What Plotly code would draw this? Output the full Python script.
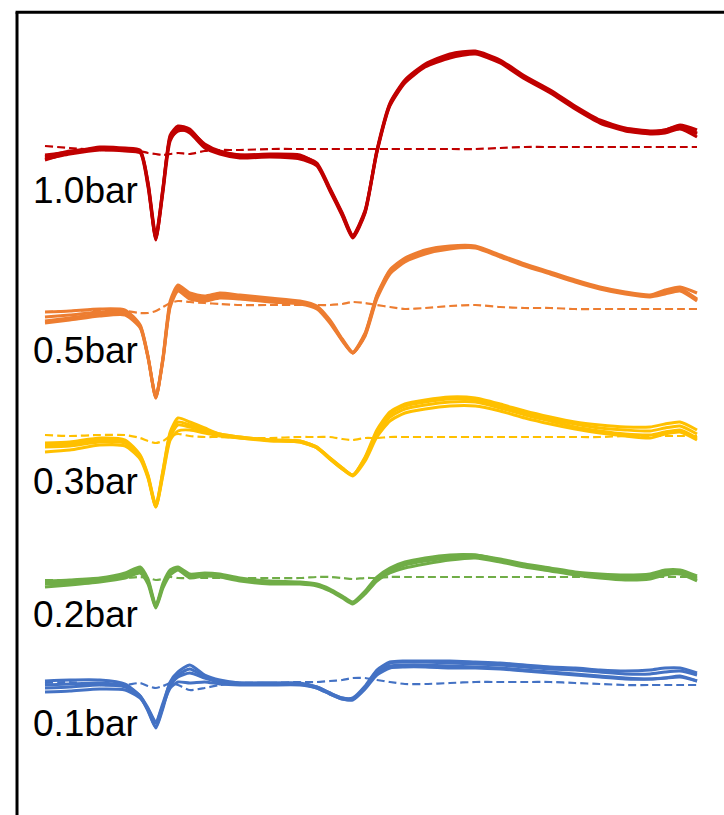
import plotly.graph_objects as go

# time axis (arbitrary units), shared by every trace
t = [0.0, 3.8, 8.4, 12.3, 14.6, 15.8, 17.0, 18.1, 19.2, 20.4, 22.2, 24.5, 26.8, 29.9,
     34.5, 39.1, 41.7, 43.7, 45.6, 47.2, 49.1, 50.9, 52.9, 55.2, 58.3, 62.1, 66.0,
     69.8, 73.6, 77.5, 81.3, 85.1, 89.0, 92.8, 95.1, 97.4, 100.0]

labels = ["1.0bar", "0.5bar", "0.3bar", "0.2bar", "0.1bar"]
colors = ["#C00000", "#ED7D31", "#FFC000", "#70AD47", "#4472C4"]
offsets = [66.6, 50.8, 37.8, 23.7, 13.2]
label_y = [62.5, 46.5, 33.4, 20.1, 9.2]

# solid traces (repeated recordings) per pressure
red_runs = [
    [-1.1, -0.4, 0.1, -0.1, -0.3, -3.6, -9.1, -4.1, 1.2, 2.2, 1.9, 0.3, -0.4, -0.7, -0.7, -0.8, -1.6, -4.1, -6.6, -8.8, -6.3, -0.3, 4.4, 6.7, 8.3, 9.3, 9.7, 8.7, 7.1, 5.7, 4.1, 2.7, 1.9, 1.6, 1.8, 2.2, 1.5],
    [-0.8, -0.2, 0.0, 0.0, -0.2, -3.4, -8.9, -3.8, 1.0, 1.8, 1.8, 0.5, -0.2, -0.6, -0.5, -0.6, -1.5, -4.0, -6.5, -8.7, -6.2, -0.1, 4.6, 6.9, 8.5, 9.5, 9.8, 8.9, 7.3, 5.9, 4.3, 2.9, 2.1, 1.8, 1.9, 2.4, 1.9],
    [-1.0, -0.5, -0.1, -0.2, -0.4, -3.8, -9.0, -4.3, 0.8, 2.0, 1.6, 0.1, -0.5, -0.9, -0.8, -1.0, -1.7, -4.2, -6.7, -8.9, -6.4, -0.4, 4.3, 6.6, 8.2, 9.1, 9.5, 8.6, 7.0, 5.6, 4.0, 2.6, 1.8, 1.5, 1.6, 2.0, 1.2],
    [-0.6, -0.3, 0.2, 0.1, -0.1, -3.3, -8.6, -3.9, 1.4, 2.3, 2.0, 0.4, -0.3, -0.6, -0.6, -0.7, -1.4, -3.9, -6.4, -8.6, -6.1, -0.2, 4.5, 6.8, 8.4, 9.4, 9.7, 8.8, 7.2, 5.8, 4.2, 2.8, 2.0, 1.7, 1.9, 2.3, 1.6],
]
orange_runs = [
    [-1.6, -1.3, -0.9, -0.8, -2.1, -5.1, -9.1, -5.3, 0.2, 2.0, 1.2, 0.9, 1.2, 1.0, 0.7, 0.4, -0.1, -1.5, -3.3, -4.6, -2.8, 1.0, 3.5, 4.7, 5.5, 5.9, 6.0, 5.1, 4.2, 3.4, 2.6, 1.9, 1.4, 1.1, 1.5, 1.8, 0.7],
    [-0.5, -0.4, -0.2, -0.3, -1.8, -4.9, -9.0, -5.0, 0.6, 2.2, 1.4, 1.1, 1.4, 1.2, 0.9, 0.6, 0.1, -1.3, -3.2, -4.5, -2.6, 1.2, 3.7, 4.9, 5.7, 6.1, 6.1, 5.2, 4.3, 3.5, 2.7, 2.0, 1.5, 1.2, 1.7, 2.0, 1.4],
    [-1.4, -1.1, -0.7, -0.6, -2.0, -5.0, -9.0, -5.2, 0.0, 1.6, 0.8, 0.6, 0.9, 0.8, 0.5, 0.3, -0.2, -1.6, -3.4, -4.6, -2.9, 0.8, 3.3, 4.5, 5.3, 5.8, 5.9, 5.0, 4.1, 3.3, 2.5, 1.8, 1.3, 1.0, 1.3, 1.6, 0.6],
    [-1.0, -0.8, -0.5, -0.5, -1.9, -5.0, -9.1, -5.1, 0.3, 1.8, 1.0, 0.8, 1.0, 0.9, 0.6, 0.4, 0.0, -1.4, -3.3, -4.6, -2.7, 1.1, 3.6, 4.8, 5.6, 6.0, 6.0, 5.1, 4.2, 3.4, 2.6, 1.9, 1.4, 1.1, 1.5, 1.8, 0.8],
]
yellow_runs = [
    [-0.6, -0.5, -0.1, -0.3, -1.8, -3.8, -6.8, -3.3, 0.5, 1.9, 1.5, 0.9, 0.3, 0.0, -0.3, -0.4, -1.0, -2.1, -3.1, -3.8, -2.0, 0.7, 2.5, 3.3, 3.7, 4.0, 3.9, 3.3, 2.6, 2.0, 1.5, 1.2, 1.0, 1.0, 1.3, 1.5, 0.7],
    [-1.0, -0.9, -0.5, -0.6, -2.0, -4.0, -7.0, -3.6, 0.0, 1.2, 1.0, 0.6, 0.2, -0.1, -0.3, -0.5, -1.1, -2.2, -3.2, -3.8, -2.2, 0.3, 2.0, 2.8, 3.2, 3.5, 3.5, 2.9, 2.2, 1.6, 1.0, 0.6, 0.3, 0.2, 0.5, 0.7, -0.1],
    [-1.5, -1.3, -0.8, -0.9, -2.2, -4.1, -7.0, -3.8, -0.3, 0.6, 0.7, 0.4, 0.1, -0.1, -0.4, -0.5, -1.1, -2.2, -3.2, -3.9, -2.4, 0.0, 1.6, 2.4, 2.8, 3.1, 3.1, 2.6, 1.9, 1.3, 0.8, 0.4, 0.1, -0.1, 0.3, 0.5, -0.3],
    [-0.8, -0.7, -0.3, -0.4, -1.9, -3.9, -6.9, -3.4, 0.3, 1.5, 1.2, 0.7, 0.3, 0.0, -0.3, -0.4, -1.0, -2.1, -3.1, -3.8, -2.1, 0.5, 2.3, 3.1, 3.5, 3.8, 3.7, 3.1, 2.4, 1.8, 1.3, 0.9, 0.7, 0.6, 0.9, 1.1, 0.3],
]
green_runs = [
    [-0.5, -0.4, -0.2, 0.3, 0.9, -0.3, -2.9, -0.7, 0.6, 1.0, 0.2, 0.4, 0.3, -0.2, -0.5, -0.5, -0.7, -1.2, -1.9, -2.5, -1.4, 0.0, 0.9, 1.5, 1.9, 2.2, 2.3, 1.8, 1.3, 0.9, 0.5, 0.2, 0.1, 0.2, 0.6, 0.7, 0.0],
    [-0.9, -0.7, -0.4, 0.0, 0.5, -0.6, -3.0, -1.0, 0.3, 0.8, 0.0, 0.2, 0.1, -0.3, -0.6, -0.6, -0.8, -1.3, -2.0, -2.6, -1.6, -0.3, 0.5, 1.0, 1.4, 1.8, 2.0, 1.6, 1.1, 0.7, 0.3, 0.0, -0.2, -0.1, 0.3, 0.4, -0.3],
    [-0.3, -0.2, 0.0, 0.5, 1.1, -0.1, -2.7, -0.5, 0.8, 1.1, 0.4, 0.5, 0.4, 0.0, -0.3, -0.4, -0.6, -1.1, -1.8, -2.4, -1.3, 0.1, 1.0, 1.6, 2.0, 2.3, 2.3, 1.9, 1.4, 1.0, 0.6, 0.4, 0.3, 0.4, 0.8, 0.8, 0.2],
    [-0.6, -0.5, -0.3, 0.2, 0.7, -0.4, -2.8, -0.8, 0.5, 0.9, 0.1, 0.3, 0.2, -0.1, -0.4, -0.5, -0.7, -1.2, -1.9, -2.5, -1.5, -0.1, 0.7, 1.3, 1.7, 2.0, 2.1, 1.7, 1.2, 0.8, 0.4, 0.1, 0.0, 0.1, 0.5, 0.5, -0.2],
]
blue_runs = [
    [0.2, 0.3, 0.3, -0.1, -1.3, -2.7, -4.4, -2.3, 0.1, 1.1, 1.8, 0.8, 0.3, 0.0, 0.0, 0.0, -0.4, -1.0, -1.5, -1.5, -0.3, 1.3, 2.1, 2.2, 2.2, 2.2, 2.1, 2.0, 1.8, 1.6, 1.5, 1.3, 1.2, 1.3, 1.5, 1.5, 1.0],
    [-0.5, -0.4, -0.2, -0.4, -1.4, -2.8, -4.5, -2.5, -0.2, 0.6, 1.0, 0.5, 0.1, -0.1, -0.1, -0.1, -0.5, -1.1, -1.6, -1.6, -0.5, 1.0, 1.7, 1.8, 1.8, 1.7, 1.6, 1.5, 1.3, 1.1, 0.9, 0.7, 0.5, 0.4, 0.5, 0.7, 0.2],
    [-0.9, -0.8, -0.6, -0.7, -1.5, -2.6, -4.0, -2.2, -0.5, 0.1, 0.0, 0.1, -0.1, -0.2, -0.2, -0.2, -0.5, -1.1, -1.6, -1.7, -0.6, 0.8, 1.5, 1.6, 1.6, 1.5, 1.5, 1.4, 1.2, 1.0, 0.8, 0.6, 0.4, 0.4, 0.5, 0.6, 0.2],
    [-0.2, -0.1, 0.0, -0.3, -1.3, -2.5, -3.9, -2.0, 0.0, 0.8, 1.4, 0.6, 0.2, 0.0, 0.0, -0.1, -0.4, -1.0, -1.5, -1.6, -0.4, 1.2, 2.0, 2.1, 2.1, 2.0, 1.9, 1.8, 1.6, 1.4, 1.3, 1.1, 0.9, 0.9, 1.1, 1.2, 0.8],
]

# dashed reference traces
red_ref = [0.3, 0.1, -0.1, -0.1, -0.2, -0.4, -0.5, -0.6, -0.5, -0.4, -0.5, -0.2, -0.1, -0.1, 0.0, 0.0, 0.0, 0.0, 0.0, 0.0, 0.0, 0.0, 0.0, 0.0, 0.0, 0.0, 0.0, 0.1, 0.2, 0.2, 0.2, 0.2, 0.2, 0.2, 0.2, 0.2, 0.2]
orange_ref = [-0.5, -0.4, -0.3, -0.4, -0.6, -0.6, -0.4, 0.0, 0.4, 0.6, 0.5, 0.4, 0.3, 0.2, 0.2, 0.2, 0.2, 0.2, 0.3, 0.5, 0.4, 0.2, 0.0, -0.2, -0.1, 0.1, 0.2, 0.0, -0.1, -0.1, -0.2, -0.2, -0.2, -0.2, -0.2, -0.2, -0.2]
yellow_ref = [0.2, 0.1, 0.2, 0.2, -0.1, -0.4, -0.6, -0.4, 0.1, 0.3, 0.1, 0.0, 0.0, -0.1, -0.1, 0.0, 0.0, 0.0, -0.2, -0.3, -0.1, -0.1, 0.0, 0.0, 0.0, 0.0, 0.0, 0.0, 0.0, 0.0, 0.0, 0.0, 0.1, 0.1, 0.1, 0.1, 0.1]
green_ref = [-0.2, -0.2, -0.1, 0.0, 0.1, 0.0, -0.2, -0.1, 0.1, 0.0, 0.0, 0.0, 0.0, 0.0, 0.0, 0.0, 0.1, 0.1, 0.0, -0.1, 0.0, 0.0, 0.1, 0.1, 0.1, 0.1, 0.1, 0.1, 0.1, 0.1, 0.1, 0.1, 0.1, 0.1, 0.1, 0.1, 0.1]
blue_ref = [0.0, 0.1, -0.2, -0.2, 0.0, -0.3, -0.5, -0.3, 0.0, -0.2, -0.7, -0.5, -0.2, 0.0, 0.0, 0.1, 0.1, 0.2, 0.3, 0.5, 0.5, 0.3, 0.1, -0.1, -0.1, 0.0, 0.1, 0.1, 0.1, 0.1, 0.0, -0.1, -0.2, -0.2, -0.2, -0.2, -0.2]

runs = [red_runs, orange_runs, yellow_runs, green_runs, blue_runs]
refs = [red_ref, orange_ref, yellow_ref, green_ref, blue_ref]

fig = go.Figure()

for runs_i, ref, off, col, name in zip(runs, refs, offsets, colors, labels):
    fig.add_trace(go.Scatter(
        x=t, y=[v + off for v in ref], mode="lines",
        line=dict(color=col, width=2.2, dash="8px,4px", shape="spline", smoothing=0.6),
        name=name + " ref", showlegend=False, hoverinfo="skip"))
    for run in runs_i:
        fig.add_trace(go.Scatter(
            x=t, y=[v + off for v in run], mode="lines",
            line=dict(color=col, width=3, shape="spline", smoothing=0.6),
            name=name, showlegend=False, hoverinfo="skip"))

for name, ly in zip(labels, label_y):
    fig.add_annotation(x=-2.2, y=ly, text=name, showarrow=False,
                       xanchor="left", yanchor="middle",
                       font=dict(family="Liberation Sans", size=37, color="black"))

# frame (only left and top edges fall inside the picture)
fig.add_shape(type="line", xref="paper", yref="paper",
              x0=0.0235, x1=0.0235, y0=0, y1=0.985, line=dict(color="black", width=3))
fig.add_shape(type="line", xref="paper", yref="paper",
              x0=0.0215, x1=1, y0=0.985, y1=0.985, line=dict(color="black", width=3))

fig.update_layout(
    width=724, height=815, autosize=False,
    margin=dict(l=0, r=0, t=0, b=0),
    paper_bgcolor="white", plot_bgcolor="white",
    xaxis=dict(range=[-6.9, 104.14], visible=False),
    yaxis=dict(range=[0, 81.5], visible=False),
    showlegend=False,
)

fig.write_html("out.html", config={"displayModeBar": False},
               post_script="document.body.style.margin='0';")
